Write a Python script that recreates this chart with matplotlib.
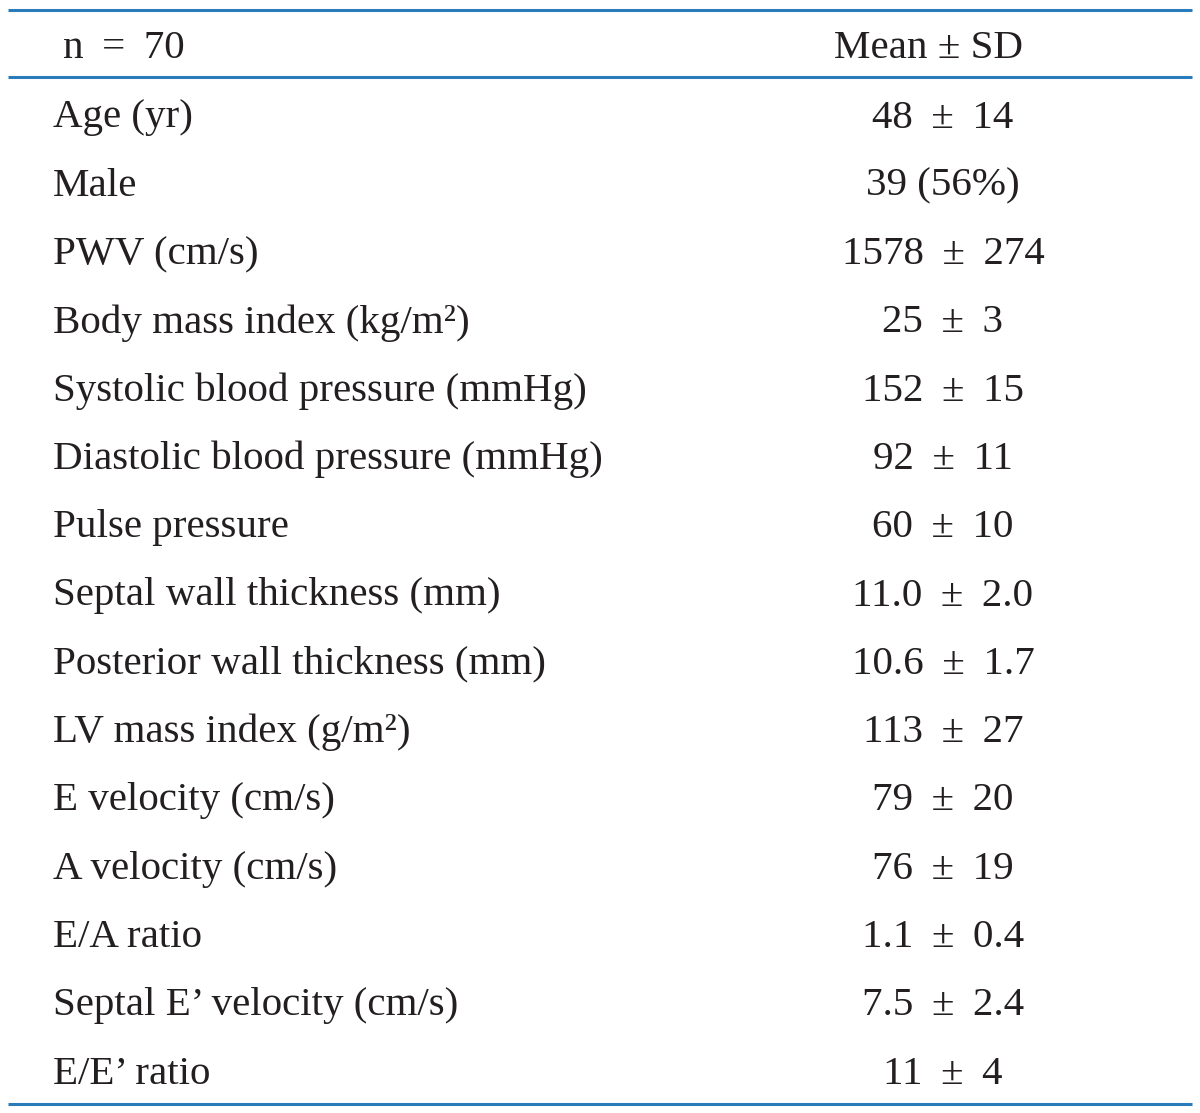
import matplotlib
matplotlib.use("Agg")
import matplotlib.pyplot as plt

header_left = "n = 70"
header_right = "Mean ± SD"
labels = [
    "Age (yr)",
    "Male",
    "PWV (cm/s)",
    "Body mass index (kg/m²)",
    "Systolic blood pressure (mmHg)",
    "Diastolic blood pressure (mmHg)",
    "Pulse pressure",
    "Septal wall thickness (mm)",
    "Posterior wall thickness (mm)",
    "LV mass index (g/m²)",
    "E velocity (cm/s)",
    "A velocity (cm/s)",
    "E/A ratio",
    "Septal E’ velocity (cm/s)",
    "E/E’ ratio",
]
values = [
    "48 ± 14",
    "39 (56%)",
    "1578 ± 274",
    "25 ± 3",
    "152 ± 15",
    "92 ± 11",
    "60 ± 10",
    "11.0 ± 2.0",
    "10.6 ± 1.7",
    "113 ± 27",
    "79 ± 20",
    "76 ± 19",
    "1.1 ± 0.4",
    "7.5 ± 2.4",
    "11 ± 4",
]

W, H = 1200, 1113
fig = plt.figure(figsize=(W / 100, H / 100), dpi=100)
ax = fig.add_axes([0, 0, 1, 1])
ax.set_xlim(0, W)
ax.set_ylim(H, 0)
ax.axis("off")

line_color = "#2a7bb9"
font = dict(family=["Liberation Serif", "DejaVu Serif"], fontsize=29.5, color="#231f20")

for yl in (10, 77, 1104):
    ax.plot([8, 1192], [yl, yl], color=line_color, lw=2.2, solid_capstyle="butt")

ax.text(63, 49, header_left.replace(" ", " \u2009"), ha="left", va="center", **font)
ax.text(928, 49, header_right, ha="center", va="center", **font)

y0, dy = 118, (1071 - 115) / 14
for i, (lab, val) in enumerate(zip(labels, values)):
    y = y0 + i * dy
    ax.text(53, y, lab, ha="left", va="center", **font)
    ax.text(943, y, val.replace(" ± ", " \u2009±\u2009 "), ha="center", va="center", **font)

fig.savefig("out.png", dpi=100)
